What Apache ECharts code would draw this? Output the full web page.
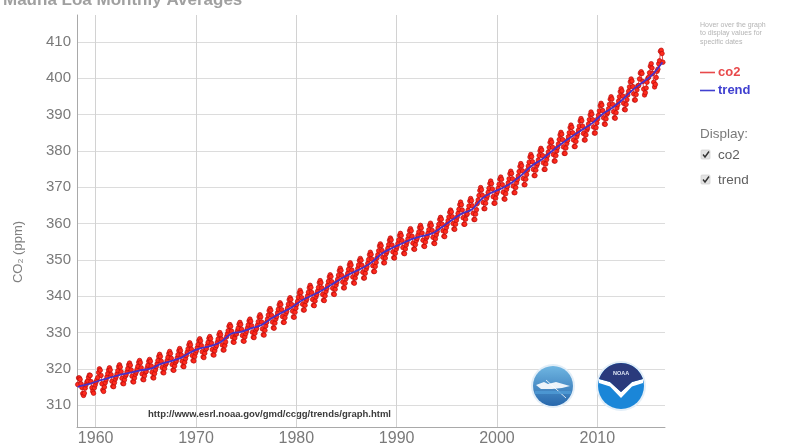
<!DOCTYPE html>
<html>
<head>
<meta charset="utf-8">
<title>Mauna Loa Monthly Averages</title>
<script src="https://cdn.jsdelivr.net/npm/echarts@6.0.0/dist/echarts.min.js"></script>
<style>
  html, body { margin: 0; padding: 0; background: #fff; }
  #chart { width: 796px; height: 444px; }
</style>
</head>
<body>
<div id="chart"></div>
<script>
// Monthly mean CO2 at Mauna Loa (ppm), one array per decade, Jan..Dec per row.
// The record starts in March 1958.
const co2_1958_1959 = [
  315.7, 317.5, 317.5, 317.1, 315.9, 314.9, 313.2, 312.7, 313.3, 314.7,
  315.6, 316.4, 316.7, 317.7, 318.3, 318.2, 316.5, 314.8, 313.8, 313.3, 314.8, 315.6
];
const co2_1960s = [
  316.4, 317.0, 317.6, 319.0, 320.0, 319.6, 318.2, 315.9, 314.2, 313.8, 315.0, 316.2,
  317.0, 317.8, 318.7, 319.7, 320.3, 319.7, 318.4, 316.6, 315.2, 315.1, 316.2, 317.2,
  317.8, 318.6, 319.5, 320.6, 321.1, 320.5, 319.2, 317.4, 316.0, 315.9, 317.0, 318.0,
  318.4, 319.2, 320.1, 321.1, 321.6, 321.0, 319.7, 318.0, 316.5, 316.4, 317.5, 318.5,
  319.1, 319.9, 320.7, 321.8, 322.3, 321.7, 320.3, 318.6, 317.1, 317.0, 318.1, 319.1,
  319.3, 320.2, 321.0, 322.1, 322.6, 322.1, 320.8, 319.1, 317.6, 317.5, 318.7, 319.7,
  320.6, 321.4, 322.3, 323.4, 324.0, 323.4, 322.1, 320.4, 319.0, 318.9, 320.1, 321.1,
  321.5, 322.3, 323.2, 324.2, 324.8, 324.2, 322.9, 321.2, 319.7, 319.6, 320.8, 321.8,
  322.2, 323.0, 323.9, 325.0, 325.6, 325.0, 323.8, 322.1, 320.7, 320.6, 321.8, 322.8,
  323.7, 324.6, 325.5, 326.6, 327.2, 326.6, 325.4, 323.7, 322.3, 322.2, 323.4, 324.4
];
const co2_1970s = [
  325.0, 325.8, 326.7, 327.8, 328.3, 327.7, 326.4, 324.7, 323.3, 323.1, 324.3, 325.3,
  325.6, 326.4, 327.3, 328.4, 328.9, 328.3, 327.1, 325.3, 323.9, 323.8, 325.0, 325.9,
  326.4, 327.3, 328.2, 329.4, 330.0, 329.4, 328.2, 326.6, 325.2, 325.2, 326.4, 327.4,
  328.8, 329.6, 330.5, 331.7, 332.2, 331.7, 330.4, 328.8, 327.4, 327.3, 328.5, 329.5,
  329.6, 330.4, 331.2, 332.3, 332.8, 332.2, 330.9, 329.2, 327.7, 327.6, 328.8, 329.7,
  330.4, 331.2, 332.1, 333.2, 333.7, 333.1, 331.9, 330.1, 328.7, 328.6, 329.8, 330.7,
  331.1, 332.0, 333.0, 334.3, 334.9, 334.3, 332.9, 331.0, 329.4, 329.3, 330.6, 331.8,
  332.8, 333.7, 334.8, 336.0, 336.6, 336.1, 334.7, 332.9, 331.3, 331.2, 332.6, 333.7,
  334.4, 335.4, 336.4, 337.6, 338.2, 337.7, 336.3, 334.4, 332.8, 332.8, 334.1, 335.2,
  335.8, 336.7, 337.8, 339.0, 339.6, 339.1, 337.7, 335.9, 334.3, 334.2, 335.6, 336.7
];
const co2_1980s = [
  337.7, 338.6, 339.7, 340.9, 341.6, 341.0, 339.6, 337.8, 336.2, 336.2, 337.5, 338.6,
  339.2, 340.1, 341.1, 342.3, 343.0, 342.4, 341.0, 339.1, 337.5, 337.4, 338.7, 339.8,
  340.5, 341.4, 342.4, 343.7, 344.3, 343.7, 342.3, 340.5, 338.9, 338.8, 340.1, 341.3,
  342.1, 343.0, 344.1, 345.3, 345.9, 345.4, 344.0, 342.2, 340.6, 340.5, 341.9, 343.0,
  343.8, 344.7, 345.8, 347.0, 347.7, 347.1, 345.7, 343.9, 342.3, 342.3, 343.6, 344.8,
  345.4, 346.3, 347.4, 348.6, 349.2, 348.6, 347.2, 345.3, 343.7, 343.6, 345.0, 346.1,
  346.6, 347.6, 348.6, 349.8, 350.4, 349.9, 348.5, 346.6, 345.0, 345.0, 346.3, 347.4,
  348.1, 349.1, 350.1, 351.4, 352.1, 351.5, 350.2, 348.4, 346.8, 346.8, 348.2, 349.3,
  350.5, 351.4, 352.5, 353.8, 354.4, 353.9, 352.6, 350.7, 349.2, 349.2, 350.5, 351.7,
  352.3, 353.2, 354.2, 355.4, 356.0, 355.5, 354.1, 352.2, 350.6, 350.5, 351.8, 352.9
];
const co2_1990s = [
  353.6, 354.5, 355.5, 356.7, 357.3, 356.7, 355.3, 353.4, 351.8, 351.7, 353.0, 354.1,
  354.9, 355.8, 356.8, 358.0, 358.6, 358.0, 356.5, 354.6, 353.0, 352.9, 354.2, 355.3,
  355.9, 356.8, 357.7, 358.9, 359.5, 358.8, 357.4, 355.4, 353.8, 353.7, 354.9, 356.0,
  356.4, 357.3, 358.3, 359.5, 360.1, 359.5, 358.1, 356.2, 354.6, 354.5, 355.8, 356.9,
  357.8, 358.8, 359.8, 361.1, 361.7, 361.2, 359.8, 358.0, 356.5, 356.4, 357.8, 358.9,
  359.8, 360.8, 361.8, 363.1, 363.7, 363.2, 361.9, 360.0, 358.5, 358.4, 359.8, 360.9,
  361.8, 362.8, 363.9, 365.2, 365.9, 365.2, 363.7, 361.6, 359.8, 359.8, 361.2, 362.4,
  362.6, 363.7, 364.8, 366.2, 366.9, 366.3, 364.9, 362.8, 361.1, 361.1, 362.6, 363.8,
  365.5, 366.5, 367.7, 369.1, 369.9, 369.3, 367.8, 365.8, 364.1, 364.1, 365.6, 366.9,
  367.6, 368.6, 369.7, 371.0, 371.7, 371.0, 369.5, 367.4, 365.6, 365.6, 367.0, 368.2
];
const co2_2000s = [
  368.8, 369.7, 370.8, 372.2, 372.8, 372.2, 370.7, 368.6, 366.8, 366.7, 368.2, 369.4,
  370.2, 371.2, 372.3, 373.7, 374.4, 373.8, 372.3, 370.3, 368.5, 368.5, 369.9, 371.2,
  372.1, 373.1, 374.3, 375.7, 376.5, 375.9, 374.5, 372.4, 370.7, 370.7, 372.2, 373.5,
  374.7, 375.8, 376.9, 378.3, 379.0, 378.4, 377.0, 374.9, 373.2, 373.2, 374.7, 375.9,
  376.5, 377.5, 378.7, 380.0, 380.7, 380.2, 378.7, 376.7, 374.9, 374.9, 376.4, 377.6,
  378.7, 379.7, 380.9, 382.3, 383.0, 382.4, 381.0, 379.0, 377.2, 377.2, 378.7, 380.0,
  380.9, 381.9, 383.1, 384.4, 385.1, 384.6, 383.1, 381.1, 379.3, 379.3, 380.8, 382.0,
  382.9, 383.9, 385.0, 386.4, 387.1, 386.5, 385.0, 383.0, 381.2, 381.2, 382.6, 383.9,
  384.7, 385.7, 386.8, 388.2, 388.9, 388.3, 386.8, 384.8, 383.0, 383.0, 384.4, 385.7,
  386.3, 387.4, 388.6, 389.9, 390.7, 390.1, 388.6, 386.6, 384.9, 384.9, 386.4, 387.7
];
const co2_2010s = [
  388.8, 389.8, 391.0, 392.4, 393.1, 392.6, 391.1, 389.1, 387.4, 387.3, 388.8, 390.1,
  390.6, 391.6, 392.8, 394.2, 394.9, 394.3, 392.8, 390.8, 389.1, 389.0, 390.5, 391.8,
  392.7, 393.7, 394.9, 396.3, 397.1, 396.5, 395.1, 393.1, 391.4, 391.3, 392.8, 394.1,
  395.4, 396.4, 397.6, 399.0, 399.8, 399.2, 397.7, 395.7, 394.0, 394.0, 395.5, 396.8,
  397.9, 398.0, 399.8, 401.4, 401.8, 401.3, 399.1, 397.0, 395.4, 396.0, 397.3, 398.9,
  400.0, 400.3, 401.5, 403.3, 404.0, 402.8, 401.3, 398.9, 397.6, 398.3, 400.2, 401.9,
  402.5, 404.0, 404.8, 407.4, 407.7, 406.8, 404.4
];

// Deseasonalized trend: value at the first month, then one value per year (mid-year), 1958..2016.
const trendFirstValue = 315.0;
const trendFirstYear = 1958;
const trendAnnual = [
  315.3, 315.97, 316.91, 317.64, 318.45, 318.99, 319.62, 320.04, 321.38, 322.16,
  323.04, 324.62, 325.68, 326.32, 327.46, 329.68, 330.19, 331.13, 332.03, 333.84,
  335.41, 336.84, 338.76, 340.12, 341.48, 343.15, 344.87, 346.35, 347.61, 349.31,
  351.69, 353.20, 354.45, 355.70, 356.54, 357.21, 358.96, 360.97, 362.74, 363.88,
  366.84, 368.54, 369.71, 371.32, 373.45, 375.98, 377.70, 379.98, 382.09, 384.02,
  385.83, 387.64, 390.10, 391.85, 394.06, 396.74, 398.81, 401.01, 404.41
];

// Each block: [first year, first month index (0 = Jan), values]
const co2Blocks = [
  [1958, 2, co2_1958_1959],
  [1960, 0, co2_1960s],
  [1970, 0, co2_1970s],
  [1980, 0, co2_1980s],
  [1990, 0, co2_1990s],
  [2000, 0, co2_2000s],
  [2010, 0, co2_2010s]
];

// Decimal date at mid-month
const co2Points = [];
co2Blocks.forEach(([y0, m0, vals]) => {
  vals.forEach((v, i) => {
    const k = m0 + i;
    const year = y0 + Math.floor(k / 12);
    const month = k % 12;
    co2Points.push([year + (month + 0.5) / 12, v]);
  });
});

const trendPoints = [[co2Points[0][0], trendFirstValue]];
trendAnnual.forEach((v, i) => trendPoints.push([trendFirstYear + i + 0.5, v]));

const chart = echarts.init(document.getElementById('chart'), null, { renderer: 'canvas' });

const isDecade = v => Math.abs(v - Math.round(v / 10) * 10) < 1e-6;
const FONT = 'Liberation Sans, Arial, sans-serif';

const logoGradient = new echarts.graphic.LinearGradient(0, 0, 0, 1, [
  { offset: 0, color: '#6fb6e2' },
  { offset: 1, color: '#2767ac' }
]);

chart.setOption({
  animation: false,
  backgroundColor: '#ffffff',
  grid: { left: 77, right: 131, top: 15, bottom: 17, containLabel: false, outerBoundsMode: 'none' },
  xAxis: {
    type: 'value',
    min: 1958.14,
    max: 2016.75,
    splitNumber: 6,
    axisLine: { show: true, lineStyle: { color: '#a9a9a9', width: 1 } },
    axisTick: { show: false },
    axisLabel: {
      color: '#7a7a7a',
      fontSize: 16,
      fontFamily: FONT,
      margin: 4,
      showMinLabel: false,
      showMaxLabel: false,
      formatter: v => (isDecade(v) ? String(Math.round(v)) : '')
    },
    splitLine: { show: true, showMinLine: false, showMaxLine: false, lineStyle: { color: '#d2d2d2', width: 1 } }
  },
  yAxis: {
    type: 'value',
    min: 304,
    max: 417.4,
    splitNumber: 11,
    axisLine: { show: true, lineStyle: { color: '#a9a9a9', width: 1 } },
    axisTick: { show: false },
    axisLabel: {
      color: '#7a7a7a',
      fontSize: 15,
      fontFamily: FONT,
      margin: 6,
      showMinLabel: false,
      showMaxLabel: false,
      formatter: v => (isDecade(v) ? String(Math.round(v)) : '')
    },
    splitLine: { show: true, showMinLine: false, showMaxLine: false, lineStyle: { color: '#dcdcdc', width: 1 } }
  },
  series: [
    {
      name: 'co2',
      type: 'line',
      data: co2Points,
      symbol: 'circle',
      symbolSize: 4.5,
      showSymbol: true,
      lineStyle: { color: '#e01818', width: 0.8 },
      itemStyle: { color: '#ff2a1c', borderColor: '#b80c0c', borderWidth: 0.7 },
      z: 2
    },
    {
      name: 'trend',
      type: 'line',
      data: trendPoints,
      symbol: 'none',
      smooth: 0.3,
      lineStyle: { color: '#4630c8', width: 1.8 },
      z: 3
    }
  ],
  graphic: [
    // chart title, partly above the top edge
    { type: 'text', x: 3, y: 8.5, style: { text: 'Mauna Loa Monthly Averages', fontSize: 17, fontWeight: 'bold', fontFamily: FONT, fill: '#a0a0a0', verticalAlign: 'bottom' } },
    // y axis title
    { type: 'text', x: 18, y: 252, rotation: Math.PI / 2, style: { text: 'CO\u2082 (ppm)', fontSize: 13, fontFamily: FONT, fill: '#808080', align: 'center', verticalAlign: 'middle' } },
    // source link
    { type: 'text', x: 148, y: 414, style: { text: 'http://www.esrl.noaa.gov/gmd/ccgg/trends/graph.html', fontSize: 9.5, fontWeight: 'bold', fontFamily: FONT, fill: '#3a3a3a', verticalAlign: 'middle' } },

    // side panel
    { type: 'text', x: 700, y: 25, style: { text: 'Hover over the graph', fontSize: 7, fontFamily: FONT, fill: '#b4b4b4', verticalAlign: 'middle' } },
    { type: 'text', x: 700, y: 33.5, style: { text: 'to display values for', fontSize: 7, fontFamily: FONT, fill: '#b4b4b4', verticalAlign: 'middle' } },
    { type: 'text', x: 700, y: 42, style: { text: 'specific dates', fontSize: 7, fontFamily: FONT, fill: '#b4b4b4', verticalAlign: 'middle' } },

    { type: 'line', shape: { x1: 700, y1: 72.5, x2: 715, y2: 72.5 }, style: { stroke: '#e8494b', lineWidth: 1.6 } },
    { type: 'text', x: 718, y: 72, style: { text: 'co2', fontSize: 13, fontWeight: 'bold', fontFamily: FONT, fill: '#e8494b', verticalAlign: 'middle' } },
    { type: 'line', shape: { x1: 700, y1: 90.5, x2: 715, y2: 90.5 }, style: { stroke: '#4040d0', lineWidth: 1.6 } },
    { type: 'text', x: 718, y: 90, style: { text: 'trend', fontSize: 13, fontWeight: 'bold', fontFamily: FONT, fill: '#4040d0', verticalAlign: 'middle' } },

    { type: 'text', x: 700, y: 134, style: { text: 'Display:', fontSize: 13.5, fontFamily: FONT, fill: '#7a7a7a', verticalAlign: 'middle' } },
    { type: 'rect', shape: { x: 701, y: 150, width: 9, height: 9, r: 1 }, style: { fill: '#e4e4e4', stroke: '#c8c8c8', lineWidth: 0.6 } },
    { type: 'polyline', shape: { points: [[703, 154.5], [705, 157], [709, 151.5]] }, style: { stroke: '#333', lineWidth: 1.4, fill: null } },
    { type: 'text', x: 718, y: 155, style: { text: 'co2', fontSize: 13.5, fontFamily: FONT, fill: '#606060', verticalAlign: 'middle' } },
    { type: 'rect', shape: { x: 701, y: 175, width: 9, height: 9, r: 1 }, style: { fill: '#e4e4e4', stroke: '#c8c8c8', lineWidth: 0.6 } },
    { type: 'polyline', shape: { points: [[703, 179.5], [705, 182], [709, 176.5]] }, style: { stroke: '#333', lineWidth: 1.4, fill: null } },
    { type: 'text', x: 718, y: 180, style: { text: 'trend', fontSize: 13.5, fontFamily: FONT, fill: '#606060', verticalAlign: 'middle' } },

    // left emblem
    { type: 'circle', shape: { cx: 553, cy: 386, r: 22 }, style: { fill: '#e2eef8' }, z: 10 },
    { type: 'circle', shape: { cx: 553, cy: 386, r: 20 }, style: { fill: logoGradient }, z: 10 },
    { type: 'polygon', shape: { points: [[536, 385], [544, 382], [548, 384], [556, 382], [563, 384], [570, 386], [562, 388], [552, 389], [541, 389]] }, style: { fill: '#ffffff', opacity: 0.9 }, z: 11 },
    { type: 'line', shape: { x1: 546, y1: 380, x2: 566, y2: 398 }, style: { stroke: '#ffffff', lineWidth: 1, opacity: 0.8 }, z: 11 },
    { type: 'rect', shape: { x: 535, y: 391, width: 36, height: 3 }, style: { fill: '#4f9bd6', opacity: 0.8 }, z: 11 },

    // NOAA emblem
    { type: 'circle', shape: { cx: 621, cy: 386, r: 25 }, style: { fill: '#e2eef8' }, z: 10 },
    { type: 'circle', shape: { cx: 621, cy: 386, r: 23 }, style: { fill: '#1a86d8' }, z: 10 },
    { type: 'polygon', shape: { points: [[599, 379], [610, 382], [621, 392], [632, 382], [643, 379], [643, 383], [632, 386.5], [621, 398], [610, 386.5], [599, 383]] }, style: { fill: '#ffffff' }, z: 11 },
    { type: 'polygon', shape: { points: [[599.1, 379], [601.1, 374.5], [604.7, 369.7], [609.5, 366.1], [615, 363.8], [621, 363], [627, 363.8], [632.5, 366.1], [637.3, 369.7], [640.9, 374.5], [642.9, 379], [632, 382], [621, 392], [610, 382]] }, style: { fill: '#2a3a7c' }, z: 11 },
    { type: 'text', x: 621, y: 373, style: { text: 'NOAA', fontSize: 5.5, fontWeight: 'bold', fontFamily: FONT, fill: '#dfe6f5', align: 'center', verticalAlign: 'middle' }, z: 12 }
  ]
});
</script>
</body>
</html>
